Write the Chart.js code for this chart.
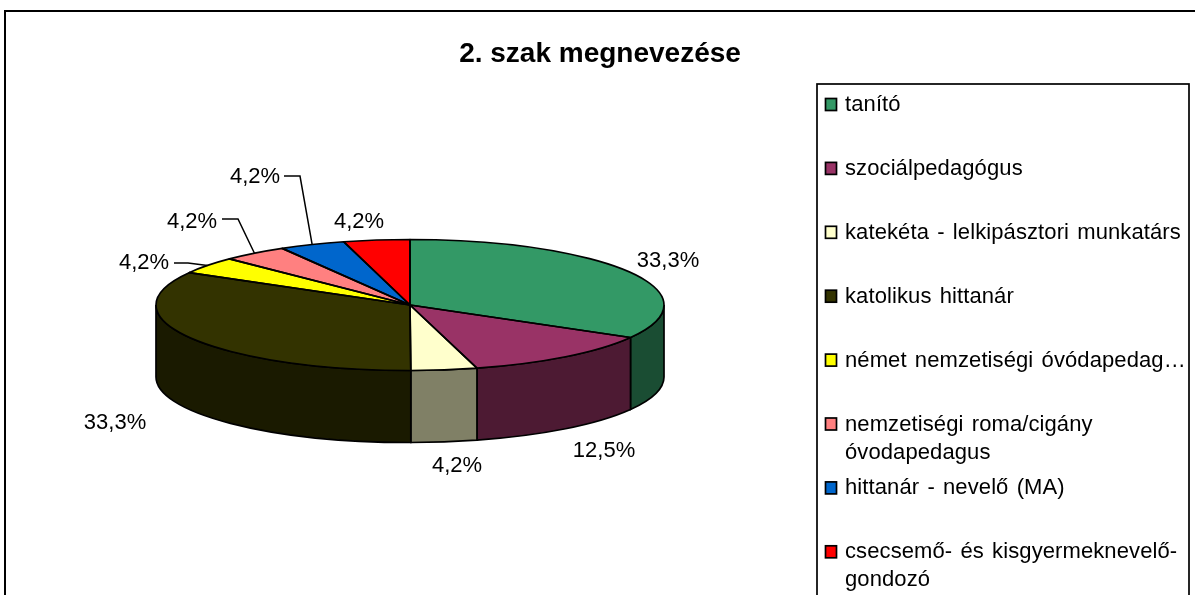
<!DOCTYPE html>
<html><head><meta charset="utf-8">
<script src="https://cdn.jsdelivr.net/npm/chart.js@4"></script>
<style>html,body{margin:0;padding:0;background:#fff}#w{position:absolute;left:0;top:0;width:1195px;height:595px}</style>
</head><body><div id="w"><canvas id="c" width="1195" height="595"></canvas></div>
<script>
const titleText = '2. szak megnevezése';
const categories = ['tanító','szociálpedagógus','katekéta - lelkipásztori munkatárs','katolikus hittanár','német nemzetiségi óvódapedag…','nemzetiségi roma/cigány óvodapedagus','hittanár - nevelő (MA)','csecsemő- és kisgyermeknevelő-gondozó'];
const legendLines = [['tanító'],['szociálpedagógus'],['katekéta - lelkipásztori munkatárs'],['katolikus hittanár'],['német nemzetiségi óvódapedag…'],['nemzetiségi roma/cigány','óvodapedagus'],['hittanár - nevelő (MA)'],['csecsemő- és kisgyermeknevelő-','gondozó']];
const values = [33.3,12.5,4.2,33.3,4.2,4.2,4.2,4.2];
const sliceColors = ['#339966','#993366','#FFFFCC','#333300','#FFFF00','#FF8080','#0066CC','#FF0000'];
const sideColors  = ['#1A4D33','#4D1A33','#808066','#1A1A00','#808000','#804040','#003366','#800000'];
// layout
const squash = 65.5/254, depth = 72;
const labelPos = [[668,261],[604,451],[457,466],[115,423],[144,263],[192,222],[255,177],[359,222]];
const leaderElbows = [[[174,263],[188,263]],[[222,219],[238,219]],[[284,176],[300,176]]]; // for slices 4,5,6
const FONT = '"Liberation Sans", Arial, sans-serif';
const TXT = '22px '+FONT;

function ey(el,a){return el.y+Math.sin(a)*el.outerRadius*squash;}
function ex(el,a){return el.x+Math.cos(a)*el.outerRadius;}

const pie3d = {
  id:'pie3d',
  beforeDraw(chart){
    const c=chart.ctx;c.save();
    c.fillStyle='#fff';c.fillRect(0,0,chart.width,chart.height);
    c.strokeStyle='#000';c.lineWidth=2;
    c.strokeRect(5,11,1400,640);
    c.fillStyle='#000';c.font='bold 28px '+FONT;c.textAlign='center';c.textBaseline='middle';
    c.fillText(titleText,600,54);
    c.letterSpacing='0.1px';c.wordSpacing='2px';
    c.lineWidth=1.7;c.strokeRect(817,84,372,540);
    c.textAlign='left';
    legendLines.forEach((ls,i)=>{
      const y=105+i*63.9;
      c.fillStyle=sliceColors[i];c.fillRect(825.5,y-6.5,11,12);
      c.strokeStyle='#000';c.lineWidth=1.7;c.strokeRect(825.5,y-6.5,11,12);
      c.fillStyle='#000';c.font=TXT;
      ls.forEach((t,j)=>c.fillText(t,845,y+j*28));
    });
    c.restore();
  },
  beforeDatasetsDraw(chart){
    const c=chart.ctx, arcs=chart.getDatasetMeta(0).data;
    // side wall
    arcs.forEach((el,i)=>{
      const a=Math.max(el.startAngle,0),b=Math.min(el.endAngle,Math.PI);
      if(b<=a) return;
      c.save();c.beginPath();
      c.ellipse(el.x,el.y,el.outerRadius,el.outerRadius*squash,0,a,b,false);
      c.ellipse(el.x,el.y+depth,el.outerRadius,el.outerRadius*squash,0,b,a,true);
      c.closePath();
      c.fillStyle=sideColors[i];c.fill();
      c.strokeStyle='#000';c.lineWidth=1.7;c.stroke();c.restore();
    });
    c.save();
    const el=arcs[0];
    c.translate(0,el.y);c.scale(1,squash);c.translate(0,-el.y);
  },
  afterDatasetsDraw(chart){
    const c=chart.ctx, arcs=chart.getDatasetMeta(0).data;
    c.restore();
    // outlines of top face (unsquashed stroke width)
    arcs.forEach(el=>{
      c.save();c.beginPath();c.moveTo(el.x,el.y);
      c.ellipse(el.x,el.y,el.outerRadius,el.outerRadius*squash,0,el.startAngle,el.endAngle,false);
      c.closePath();c.strokeStyle='#000';c.lineWidth=1.7;c.lineJoin='round';c.stroke();c.restore();
    });
    // data labels and leaders
    c.save();c.font=TXT;c.fillStyle='#000';c.textAlign='center';c.textBaseline='middle';
    arcs.forEach((el,i)=>{
      c.fillText(values[i].toFixed(1).replace('.',',')+'%',labelPos[i][0],labelPos[i][1]);
    });
    c.strokeStyle='#000';c.lineWidth=1.5;
    leaderElbows.forEach((pts,k)=>{
      const el=arcs[k+4],m=(el.startAngle+el.endAngle)/2;
      c.beginPath();c.moveTo(pts[0][0],pts[0][1]);c.lineTo(pts[1][0],pts[1][1]);
      c.lineTo(ex(el,m),ey(el,m));c.stroke();
    });
    c.restore();
  }
};

new Chart(document.getElementById('c'),{
  type:'pie',
  data:{labels:categories,datasets:[{data:values,backgroundColor:sliceColors,borderWidth:0}]},
  options:{
    responsive:false,animation:false,
    layout:{padding:{left:156,right:531,top:51,bottom:36}},
    plugins:{legend:{display:false},tooltip:{enabled:false},title:{display:false}}
  },
  plugins:[pie3d]
});
</script></body></html>
